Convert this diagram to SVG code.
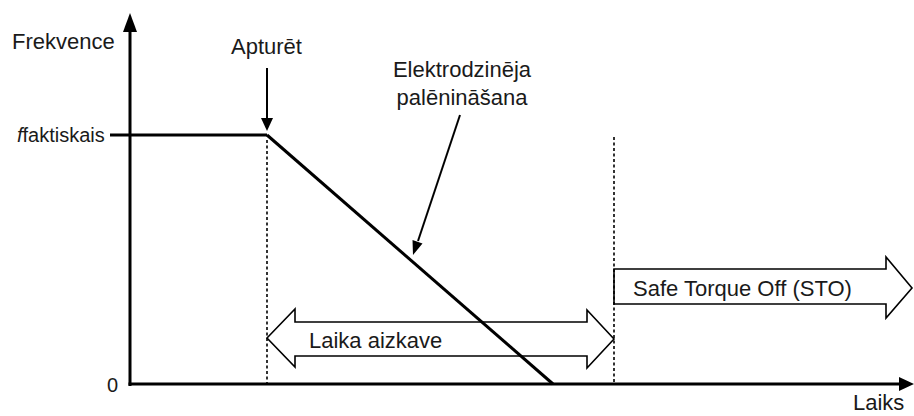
<svg xmlns="http://www.w3.org/2000/svg" width="914" height="416" viewBox="0 0 914 416">
<style>
text{font-family:"Liberation Sans",Arial,sans-serif;fill:#1a1a1a}
.lbl{font-size:22px}
.sm{font-size:20px}
.ax{stroke:#000;stroke-width:3;fill:none}
.dot{stroke:#000;stroke-width:1.6;stroke-dasharray:3,2.5;fill:none}
.blk{stroke:#000;stroke-width:2;fill:none}
.outl{stroke:#000;stroke-width:1.6;fill:none;stroke-linejoin:miter}
</style>
<rect width="914" height="416" fill="#fff"/>
<g id="laika-aizkave">
  <polygon class="outl" points="267,338 295,309 295,322 587,322 587,310 614,339 587,368 587,356 295,356 295,367"/>
  <text class="lbl" x="309" y="348">Laika aizkave</text>
</g>
<g id="sto">
  <polygon class="outl" points="614,269 886,269 886,257 912,288 886,318 886,304 614,304"/>
  <text class="lbl" x="633" y="296">Safe Torque Off (STO)</text>
</g>
<g id="connectors">
  <line class="dot" x1="267" y1="140" x2="267" y2="384"/>
  <line class="dot" x1="614" y1="137" x2="614" y2="384"/>
  <line class="ax" x1="130" y1="386" x2="130" y2="30"/>
  <polygon points="130,13 123,32 137,32" fill="#000"/>
  <line class="ax" x1="128.5" y1="384" x2="900" y2="384"/>
  <polygon points="914,384 899,377 899,391" fill="#000"/>
  <line class="ax" x1="110" y1="135" x2="267" y2="135"/>
  <line class="ax" x1="267" y1="135" x2="553" y2="384"/>
  <line class="blk" x1="267" y1="68" x2="267" y2="119"/>
  <polygon points="261,118 273,118 267,131" fill="#000"/>
  <line class="blk" x1="460" y1="115" x2="418" y2="241"/>
  <polygon points="413,255 422.5,243.5 412.5,240" fill="#000"/>
</g>
<g id="labels">
  <text class="lbl" x="12" y="49">Frekvence</text>
  <text class="lbl" x="231" y="54">Apturēt</text>
  <text class="lbl" x="462" y="77" text-anchor="middle">Elektrodzinēja</text>
  <text class="lbl" x="462" y="105" text-anchor="middle">palēnināšana</text>
  <text class="sm" x="17" y="142"><tspan font-style="italic">f</tspan>faktiskais</text>
  <text class="sm" x="107" y="392">0</text>
  <text class="lbl" x="853" y="410">Laiks</text>
</g>
</svg>
